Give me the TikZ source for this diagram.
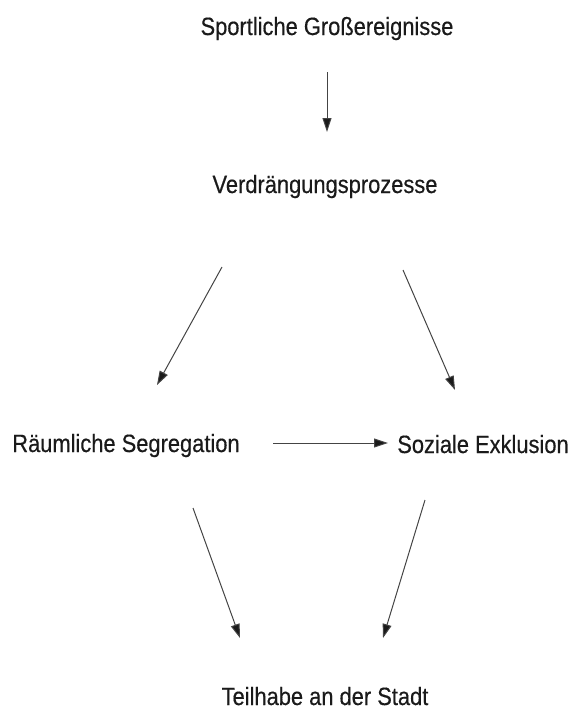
\documentclass[tikz,border=0pt]{standalone}
\usepackage{fontspec}
\setmainfont{Liberation Sans}[FakeStretch=0.875,FakeBold=0.4]
\usetikzlibrary{arrows.meta}
\definecolor{txt}{HTML}{1A1A1A}
\definecolor{ln}{HTML}{444444}
\begin{document}
\begin{tikzpicture}[x=1pt,y=-1pt,
  lbl/.style={inner sep=0pt,anchor=base,text=txt,font=\fontsize{25}{29}\selectfont},
  conn/.style={draw=ln,line width=1pt,-{Triangle[length=14pt,width=9pt,fill=txt]}}]
\useasboundingbox (0,0) rectangle (573,715);
\node[lbl] (sg) at (327,35) {Sportliche Großereignisse};
\node[lbl] (vp) at (325,193) {Verdrängungsprozesse};
\node[lbl] (rs) at (126,452) {Räumliche Segregation};
\node[lbl] (se) at (483,453) {Soziale Exklusion};
\node[lbl] (ts) at (325,705) {Teilhabe an der Stadt};
\coordinate (a1s) at (327,72); \coordinate (a1e) at (327,132);
\coordinate (a2s) at (222,267); \coordinate (a2e) at (157,385);
\coordinate (a3s) at (403,270); \coordinate (a3e) at (455,390);
\coordinate (a4s) at (273,443); \coordinate (a4e) at (388,443);
\coordinate (a5s) at (193,508); \coordinate (a5e) at (240,638);
\coordinate (a6s) at (425,500); \coordinate (a6e) at (383,638);
\draw[conn] (a1s) -- (a1e);
\draw[conn] (a2s) -- (a2e);
\draw[conn] (a3s) -- (a3e);
\draw[conn] (a4s) -- (a4e);
\draw[conn] (a5s) -- (a5e);
\draw[conn] (a6s) -- (a6e);
\end{tikzpicture}
\end{document}
